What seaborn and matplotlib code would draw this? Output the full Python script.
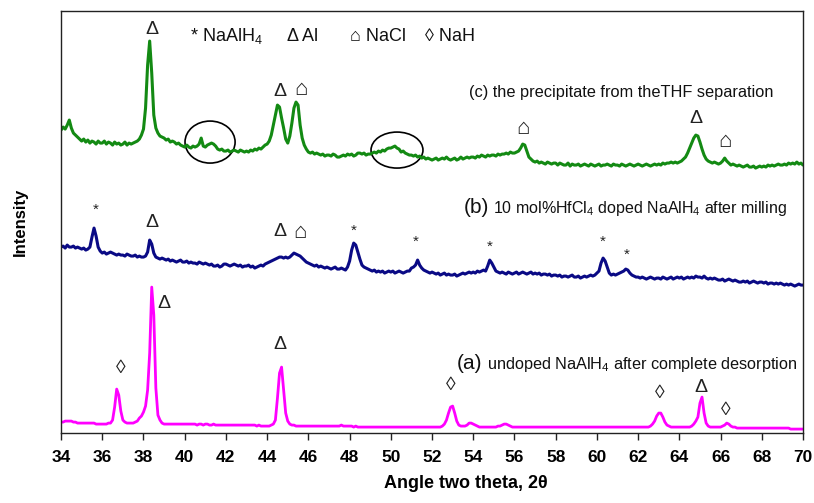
import numpy as np
import pandas as pd
import matplotlib.pyplot as plt
import seaborn as sns
from matplotlib.patches import Ellipse

# 2-theta sampling, 0.1 deg steps from 34 to 70
two_theta = np.round(np.arange(340, 701) / 10, 1)

# (arbitrary intensity units, offsets included), one row per degree
trace_c = [
    303, 306, 304, 308, 313, 305, 300, 298, 296, 294,
    292, 294, 291, 293, 290, 292, 291, 289, 292, 290,
    290, 292, 289, 291, 290, 288, 291, 289, 290, 288,
    289, 291, 288, 290, 289, 290, 291, 292, 294, 298,
    304, 325, 368, 392, 360, 318, 305, 300, 297, 296,
    295, 293, 294, 291, 292, 291, 289, 290, 288, 287,
    286, 288, 286, 285, 287, 286, 287, 289, 295, 287,
    286, 288, 289, 290, 289, 287, 284, 283, 284, 282,
    282, 283, 281, 282, 283, 282, 281, 283, 282, 281,
    282, 281, 283, 282, 284, 283, 285, 284, 286, 288,
    289, 292, 298, 308, 318, 328, 326, 315, 305, 294,
    290, 297, 310, 325, 331, 328, 308, 295, 288, 284,
    281, 280, 281, 279, 280, 279, 278, 279, 277, 278,
    278, 277, 279, 278, 276, 276, 277, 278, 277, 279,
    278, 279, 277, 278, 280, 280, 279, 280, 278, 279,
    279, 280, 281, 280, 282, 281, 283, 282, 284, 285,
    285, 286, 287, 285, 284, 281, 282, 280, 279, 278,
    278, 277, 278, 276, 277, 275, 276, 274, 275, 274,
    273, 274, 275, 273, 274, 275, 274, 276, 274, 273,
    274, 275, 273, 274, 276, 274, 275, 276, 275, 276,
    276, 275, 277, 276, 278, 277, 276, 278, 277, 278,
    278, 277, 279, 278, 279, 279, 280, 279, 281, 280,
    280, 281, 282, 285, 289, 288, 282, 276, 274, 272,
    271, 272, 270, 271, 270, 269, 271, 270, 269, 270,
    270, 268, 270, 269, 268, 268, 270, 267, 269, 268,
    268, 269, 267, 268, 269, 268, 267, 269, 268, 267,
    268, 269, 267, 268, 268, 269, 268, 267, 269, 268,
    268, 267, 269, 268, 267, 268, 269, 268, 267, 268,
    269, 268, 267, 268, 269, 268, 267, 268, 269, 268,
    269, 268, 270, 269, 270, 270, 271, 270, 271, 270,
    271, 272, 274, 276, 280, 285, 290, 295, 298, 297,
    291, 284, 278, 274, 272, 271, 270, 271, 270, 269,
    270, 272, 275, 272, 270, 268, 269, 268, 267, 268,
    267, 266, 267, 268, 266, 266, 267, 265, 266, 267,
    266, 267, 266, 268, 267, 268, 267, 268, 269, 268,
    268, 269, 268, 270, 269, 270, 269, 271, 269, 270,
    268,
]

trace_b = [
    186, 187, 185, 188, 186, 186, 187, 185, 186, 185,
    184, 185, 183, 184, 186, 196, 205, 197, 186, 182,
    180, 181, 179, 180, 181, 180, 179, 178, 179, 178,
    178, 177, 179, 178, 177, 177, 178, 176, 177, 176,
    176, 177, 181, 193, 189, 180, 176, 175, 174, 175,
    174, 173, 174, 172, 173, 172, 171, 172, 173, 171,
    171, 172, 170, 171, 170, 170, 169, 171, 170, 169,
    170, 169, 168, 169, 167, 167, 168, 166, 167, 169,
    169, 168, 167, 168, 169, 168, 167, 168, 166, 167,
    167, 168, 166, 167, 165, 166, 167, 168, 167, 169,
    170, 171, 172, 173, 174, 175, 176, 176, 175, 176,
    175, 176, 178, 180, 179, 178, 177, 175, 173, 171,
    170, 169, 168, 167, 168, 166, 167, 166, 165, 166,
    165, 164, 165, 166, 164, 164, 165, 164, 163, 166,
    172, 183, 190, 188, 181, 174, 168, 166, 165, 164,
    163, 162, 163, 161, 162, 161, 162, 160, 161, 162,
    161, 162, 160, 161, 162, 161, 160, 161, 162, 162,
    165, 166, 168, 173, 168, 165, 163, 162, 161, 160,
    161, 160, 159, 160, 158, 159, 160, 158, 159, 158,
    158, 159, 157, 158, 159, 160, 159, 160, 161, 160,
    161, 160, 162, 161, 162, 163, 162, 167, 173, 170,
    166, 162, 161, 160, 161, 160, 159, 161, 160, 159,
    160, 161, 159, 160, 161, 160, 159, 160, 161, 159,
    160, 159, 160, 158, 159, 159, 158, 159, 157, 158,
    158, 157, 158, 156, 157, 157, 156, 157, 158, 156,
    156, 157, 155, 156, 157, 156, 157, 158, 157, 158,
    160, 162, 170, 175, 172, 166, 160, 158, 159, 158,
    159, 160, 161, 162, 164, 163, 160, 158, 157, 156,
    156, 155, 156, 155, 154, 155, 156, 155, 154, 155,
    155, 154, 156, 155, 154, 155, 156, 154, 155, 156,
    155, 156, 154, 155, 156, 155, 156, 155, 157, 156,
    156, 155, 157, 155, 154, 155, 154, 155, 154, 153,
    153, 154, 152, 153, 154, 153, 152, 153, 152, 151,
    151, 152, 151, 152, 150, 151, 152, 151, 150, 151,
    151, 150, 151, 149, 150, 150, 149, 150, 149, 150,
    149, 148, 149, 148, 149, 148, 147, 148, 149, 148,
    148,
]

trace_a = [
    11, 11, 12, 12, 12, 12, 11, 11, 10, 10,
    10, 10, 10, 10, 10, 10, 10, 9, 9, 9,
    9, 9, 9, 10, 10, 13, 26, 44, 38, 22,
    13, 11, 10, 10, 10, 10, 11, 12, 15, 17,
    21, 27, 43, 80, 146, 118, 45, 18, 13, 10,
    9, 9, 9, 9, 9, 9, 9, 9, 9, 9,
    9, 9, 9, 9, 9, 9, 8, 9, 9, 8,
    9, 9, 8, 8, 9, 8, 8, 8, 8, 8,
    8, 8, 8, 8, 8, 8, 8, 8, 8, 8,
    8, 8, 8, 8, 8, 7, 8, 7, 7, 7,
    7, 7, 8, 9, 13, 35, 60, 66, 43, 20,
    12, 9, 8, 8, 7, 7, 7, 7, 7, 7,
    7, 7, 7, 7, 7, 7, 7, 7, 7, 7,
    7, 7, 7, 7, 7, 7, 8, 7, 7, 7,
    7, 7, 6, 7, 6, 6, 6, 6, 6, 6,
    6, 6, 6, 6, 6, 6, 6, 6, 6, 6,
    6, 6, 6, 6, 6, 6, 6, 6, 6, 6,
    6, 6, 6, 6, 6, 6, 6, 6, 6, 6,
    6, 6, 6, 6, 6, 7, 9, 13, 20, 26,
    27, 20, 12, 8, 7, 7, 7, 8, 10, 10,
    9, 8, 7, 6, 6, 6, 6, 6, 6, 6,
    6, 6, 7, 7, 8, 9, 9, 8, 7, 6,
    6, 6, 6, 6, 6, 6, 6, 6, 6, 6,
    6, 6, 6, 6, 6, 6, 6, 6, 6, 6,
    6, 6, 6, 6, 6, 6, 6, 6, 6, 6,
    6, 6, 6, 6, 6, 6, 6, 6, 6, 6,
    6, 6, 6, 6, 6, 6, 6, 6, 6, 6,
    6, 6, 6, 6, 6, 6, 6, 6, 6, 6,
    6, 6, 6, 6, 6, 6, 7, 9, 12, 17,
    20, 20, 16, 11, 8, 7, 6, 6, 6, 6,
    6, 6, 6, 6, 6, 6, 7, 9, 12, 16,
    30, 36, 20, 10, 7, 6, 6, 6, 6, 6,
    6, 7, 8, 10, 9, 7, 6, 6, 5, 5,
    5, 5, 5, 5, 5, 5, 5, 5, 5, 5,
    5, 5, 5, 5, 5, 5, 5, 5, 5, 5,
    5, 5, 5, 5, 4, 4, 4, 4, 4, 4,
    4,
]

patterns = ['c', 'b', 'a']
colors = ['#138a13', '#0a0a85', '#ff00ff']

# peak markers: (symbol, two theta, height)
marks_c = [('Δ', 38.42, 404), ('Δ', 44.63, 342), ('⌂', 45.64, 344),
           ('⌂', 56.42, 305), ('Δ', 64.81, 315), ('⌂', 66.22, 292)]
marks_b = [('*', 35.70, 223), ('Δ', 38.42, 211), ('Δ', 44.63, 202), ('⌂', 45.60, 201),
           ('*', 48.22, 202), ('*', 51.22, 191), ('*', 54.82, 186), ('*', 60.30, 191),
           ('*', 61.46, 178)]
marks_a = [('◊', 36.91, 65), ('Δ', 39.00, 130), ('Δ', 44.63, 89), ('◊', 52.92, 48),
           ('◊', 63.06, 40), ('Δ', 65.05, 46), ('◊', 66.27, 23)]

key_items = ['* NaAlH$_{\\mathrm{4}}$', 'Δ Al', '⌂ NaCl', '◊ NaH']
key_x = [40.26, 44.97, 48.02, 51.66]

assert len(two_theta) == len(trace_a) == len(trace_b) == len(trace_c)

df = pd.concat([
    pd.DataFrame({'two_theta': two_theta, 'intensity': trace_c, 'pattern': 'c'}),
    pd.DataFrame({'two_theta': two_theta, 'intensity': trace_b, 'pattern': 'b'}),
    pd.DataFrame({'two_theta': two_theta, 'intensity': trace_a, 'pattern': 'a'}),
])

sns.set_style('ticks')
plt.rcParams['font.family'] = ['Liberation Sans', 'DejaVu Sans']
plt.rcParams['mathtext.fontset'] = 'custom'
plt.rcParams['mathtext.rm'] = 'Liberation Sans'
plt.rcParams['mathtext.it'] = 'Liberation Sans:italic'

fig = plt.figure(figsize=(8.14, 5.03), dpi=100)
ax = fig.add_axes([0.075, 0.139, 0.9115, 0.839])

sns.lineplot(
    data=df,
    x='two_theta',
    y='intensity',
    hue='pattern',
    hue_order=patterns,
    palette=colors,
    linewidth=2.2,
    legend=False,
    ax=ax
)
ax.lines[2].set_linewidth(2.0)

ax.set_xlim(34, 70)
ax.set_ylim(0, 422)
ax.set_xticks(np.arange(34, 71, 2))
ax.set_yticks([])
ax.tick_params(axis='x', direction='out', length=5, width=1, pad=7,
               labelsize=12.5, bottom=True, color='#222222', labelcolor='black')
ax.tick_params(axis='y', left=False)
for lab in ax.get_xticklabels():
    lab.set_fontweight('bold')
for sp in ax.spines.values():
    sp.set_color('#222222')
    sp.set_linewidth(1.0)

ax.set_xlabel('Angle two theta, 2θ', fontsize=13, fontweight='bold', color='black')
ax.xaxis.set_label_coords(0.546, -0.10)
ax.set_ylabel('Intensity', fontsize=12, fontweight='bold', color='black')
ax.yaxis.set_label_coords(-0.045, 0.5)

# peak symbols
sym_size = {'*': 11, 'Δ': 14, '⌂': 16, '◊': 14}
for marks in [marks_c, marks_b, marks_a]:
    for sym, x, y in marks:
        ax.text(x, y, sym, ha='center', va='center', fontsize=sym_size[sym], color='#222222')

# phase key at the top
for item, x in zip(key_items, key_x):
    ax.text(x, 392, item, ha='left', va='baseline', fontsize=13, color='#111111')

# pattern labels
ax.text(68.59, 336, '(c) the precipitate from theTHF separation',
        ha='right', va='baseline', fontsize=11.8, color='#111111')
lab_b = ax.text(69.23, 220, '10 mol%HfCl$_{\\mathrm{4}}$ doped NaAlH$_{\\mathrm{4}}$ after milling',
                ha='right', va='baseline', fontsize=11.5, color='#111111')
ax.annotate('(b)', xy=(0, 0.5), xycoords=lab_b, xytext=(-3, 1),
            textcoords='offset points', ha='right', va='center', fontsize=15, color='#111111')
lab_a = ax.text(69.71, 64, 'undoped NaAlH$_{\\mathrm{4}}$ after complete desorption',
                ha='right', va='baseline', fontsize=11.7, color='#111111')
ax.annotate('(a)', xy=(0, 0.5), xycoords=lab_a, xytext=(-3, 1),
            textcoords='offset points', ha='right', va='center', fontsize=15, color='#111111')

# circled regions on trace (c)
ax.add_patch(Ellipse((41.23, 291), 2.43, 42, fill=False, edgecolor='black', linewidth=1.2))
ax.add_patch(Ellipse((50.30, 283), 2.52, 36, fill=False, edgecolor='black', linewidth=1.2))

plt.savefig('out.png', dpi=100)
